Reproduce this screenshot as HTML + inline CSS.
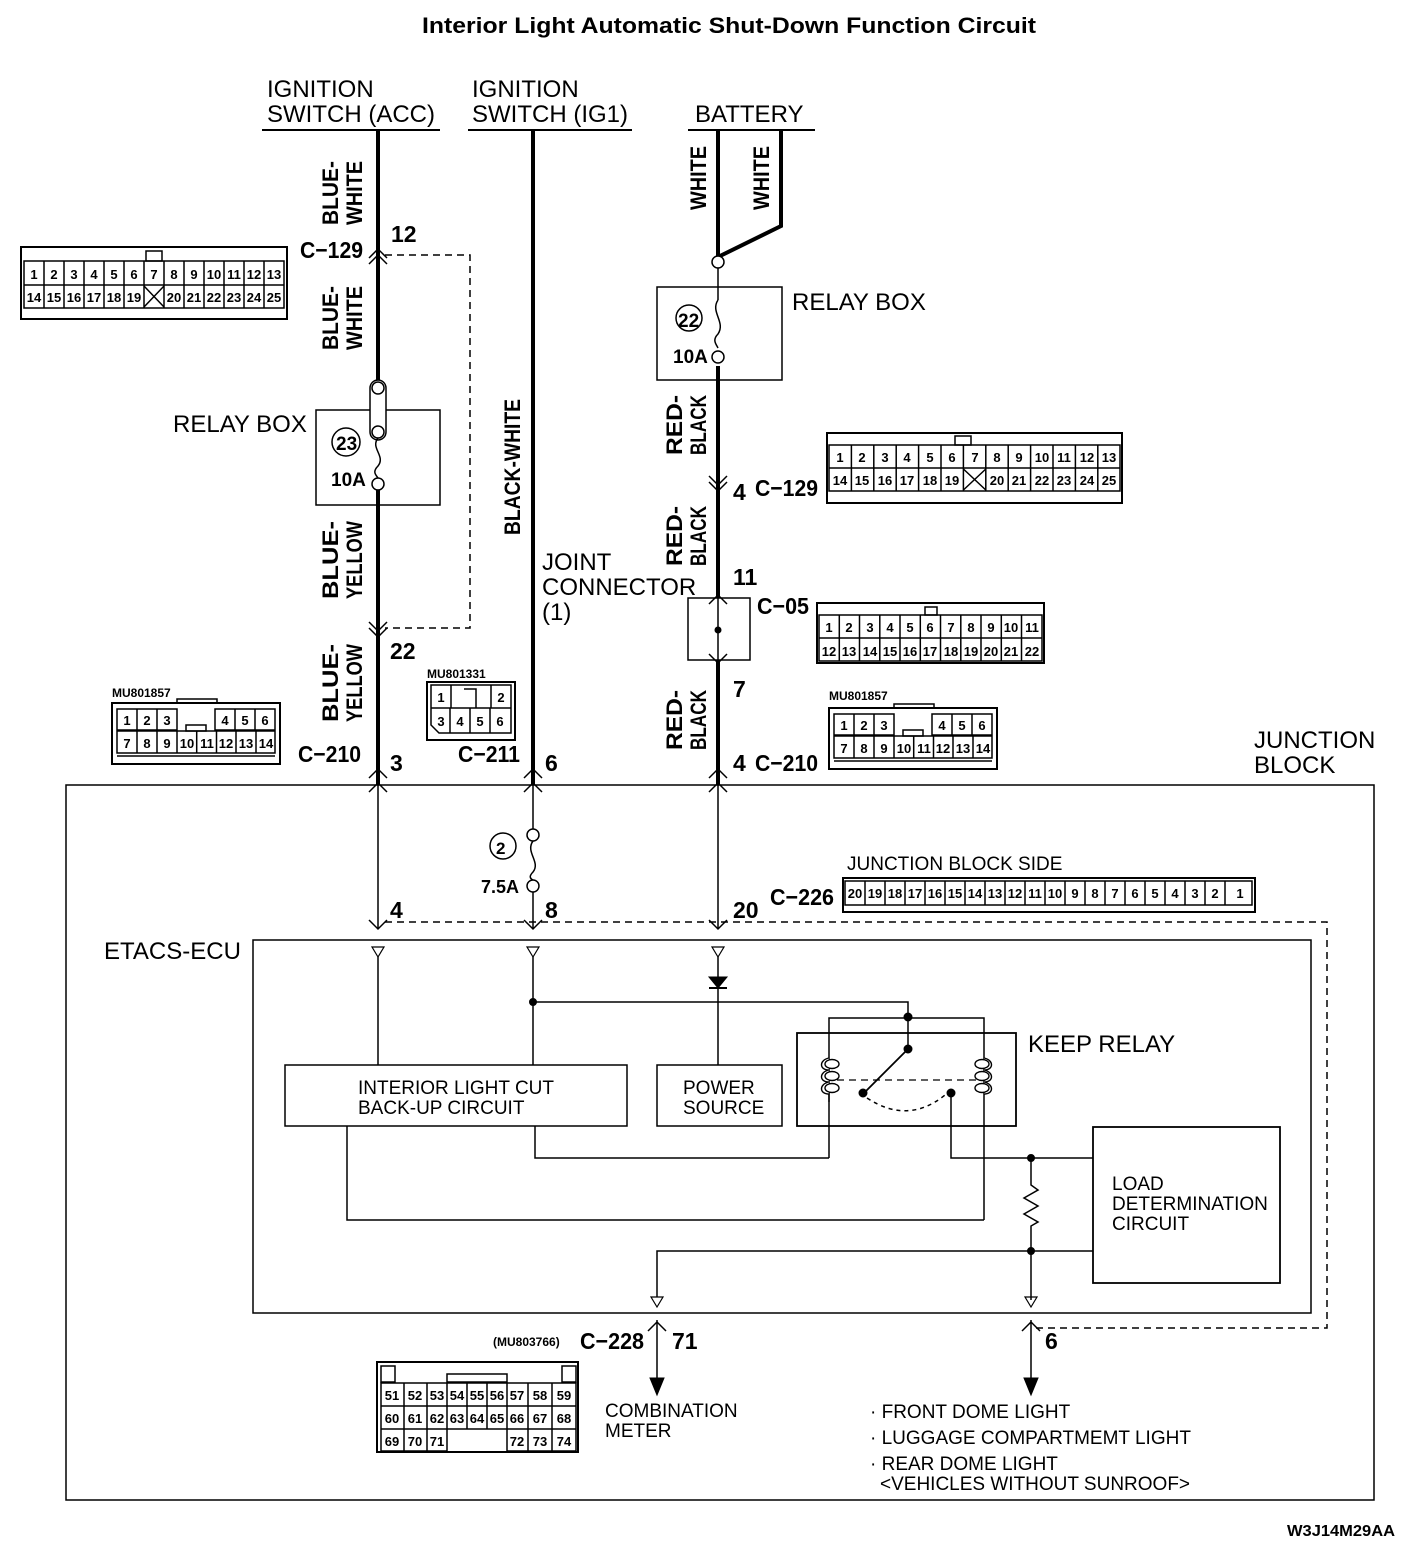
<!DOCTYPE html>
<html><head><meta charset="utf-8"><style>
html,body{margin:0;padding:0;background:#fff}
svg{display:block}
text{font-family:"Liberation Sans",sans-serif;fill:#000}
.t{font-size:24px}
.b{font-size:23px;font-weight:bold}
.n{font-size:13px;font-weight:bold;text-anchor:middle}
.s{font-size:19px}
</style></head><body>
<svg width="1408" height="1552" viewBox="0 0 1408 1552" xmlns="http://www.w3.org/2000/svg" stroke-linecap="butt">
<text x="422" y="33" style="font-size:22px;font-weight:bold" textLength="614" lengthAdjust="spacingAndGlyphs">Interior Light Automatic Shut-Down Function Circuit</text>

<!-- top labels -->
<text class="t" x="267" y="97">IGNITION</text><text class="t" x="267" y="122">SWITCH (ACC)</text>
<line x1="262" y1="130" x2="440" y2="130" stroke="#000" stroke-width="2"/>
<text class="t" x="472" y="97">IGNITION</text><text class="t" x="472" y="122">SWITCH (IG1)</text>
<line x1="468" y1="130" x2="632" y2="130" stroke="#000" stroke-width="2"/>
<text class="t" x="695" y="122">BATTERY</text>
<line x1="688" y1="130" x2="815" y2="130" stroke="#000" stroke-width="2"/>

<g stroke="#000" fill="none">
<line x1="378" y1="130" x2="378" y2="380" stroke-width="4"/>
<line x1="378" y1="490" x2="378" y2="785" stroke-width="4"/>
<line x1="533" y1="130" x2="533" y2="785" stroke-width="4"/>
<line x1="718" y1="130" x2="718" y2="256" stroke-width="4"/>
<polyline points="781,130 781,226 718,257" stroke-width="4"/>
<line x1="718" y1="366" x2="718" y2="598" stroke-width="4"/>
<line x1="718" y1="660" x2="718" y2="785" stroke-width="4"/>
<polyline points="369,258 378,249 387,258" stroke-width="1.5"/>
<polyline points="369,264 378,255 387,264" stroke-width="1.5"/>
<polyline points="369,622 378,631 387,622" stroke-width="1.5"/>
<polyline points="369,628 378,637 387,628" stroke-width="1.5"/>
<polyline points="369,778 378,769 387,778" stroke-width="1.5"/>
<polyline points="369,792 378,783 387,792" stroke-width="1.5"/>
<polyline points="524,778 533,769 542,778" stroke-width="1.5"/>
<polyline points="524,792 533,783 542,792" stroke-width="1.5"/>
<polyline points="709,778 718,769 727,778" stroke-width="1.5"/>
<polyline points="709,792 718,783 727,792" stroke-width="1.5"/>
<polyline points="709,476 718,485 727,476" stroke-width="1.5"/>
<polyline points="709,482 718,491 727,482" stroke-width="1.5"/>
<polyline points="709,604 718,595 727,604" stroke-width="1.5"/>
<polyline points="709,654 718,663 727,654" stroke-width="1.5"/>
<polyline points="369,920 378,929 387,920" stroke-width="1.5"/>
<polyline points="524,920 533,929 542,920" stroke-width="1.5"/>
<polyline points="709,920 718,929 727,920" stroke-width="1.5"/>
<polyline points="385,255 470,255 470,628 385,628" stroke-width="1.5" stroke-dasharray="7,5"/>
<rect x="316" y="410" width="124" height="95" stroke-width="1.5"/>
<rect x="370" y="380" width="16" height="60" rx="8" stroke-width="1.5" fill="#fff"/>
<circle cx="378" cy="388" r="6" fill="#fff" stroke-width="1.5"/>
<circle cx="378" cy="432" r="6" fill="#fff" stroke-width="1.5"/>
<path d="M378,438 C370,448 386,456 378,466 C372,472 376,475 378,478" stroke-width="1.5"/>
<circle cx="378" cy="484" r="6" fill="#fff" stroke-width="1.5"/>
<circle cx="346" cy="442" r="14" stroke-width="1.5"/>
<rect x="657" y="287" width="125" height="93" stroke-width="1.5"/>
<circle cx="718" cy="262" r="6" fill="#fff" stroke-width="1.5"/>
<line x1="718" y1="268" x2="718" y2="300" stroke-width="1.5"/>
<path d="M718,300 C710,312 726,322 718,334 C712,340 716,344 718,348" stroke-width="1.5"/>
<circle cx="718" cy="357" r="6" fill="#fff" stroke-width="1.5"/>
<circle cx="689" cy="318" r="13" stroke-width="1.5"/>
<rect x="688" y="598" width="62" height="62" stroke-width="1.5"/>
<line x1="718" y1="598" x2="718" y2="660" stroke-width="1.5"/>
<circle cx="718" cy="630" r="3" fill="#000"/>

<rect x="66" y="785" width="1308" height="715" stroke-width="1.5"/>
<line x1="378" y1="785" x2="378" y2="928" stroke-width="1.5"/>
<line x1="533" y1="785" x2="533" y2="829" stroke-width="1.5"/>
<circle cx="533" cy="835" r="6" fill="#fff" stroke-width="1.5"/>
<path d="M533,841 C525,852 541,862 533,872 C528,877 531,879 533,880" stroke-width="1.5"/>
<circle cx="533" cy="886" r="6" fill="#fff" stroke-width="1.5"/>
<line x1="533" y1="892" x2="533" y2="928" stroke-width="1.5"/>
<circle cx="503" cy="846" r="13" stroke-width="1.5"/>
<line x1="718" y1="785" x2="718" y2="928" stroke-width="1.5"/>
<polyline points="385,922 1327,922 1327,1328 1035,1328" stroke-width="1.5" stroke-dasharray="7,5"/>

<rect x="253" y="940" width="1058" height="373" stroke-width="1.5"/>
<polygon points="372,947 384,947 378,957" stroke-width="1.2"/>
<polygon points="527,947 539,947 533,957" stroke-width="1.2"/>
<polygon points="712,947 724,947 718,957" stroke-width="1.2"/>
<line x1="378" y1="957" x2="378" y2="1065" stroke-width="1.5"/>
<line x1="533" y1="957" x2="533" y2="1065" stroke-width="1.5"/>
<line x1="718" y1="957" x2="718" y2="1065" stroke-width="1.5"/>
<polygon points="709,977 727,977 718,988" fill="#000" stroke-width="1"/>
<line x1="709" y1="988" x2="727" y2="988" stroke-width="2"/>
<polyline points="533,1002 908,1002 908,1049" stroke-width="1.5"/>
<circle cx="533" cy="1002" r="3.5" fill="#000"/>
<circle cx="908" cy="1017" r="4" fill="#000"/>
<circle cx="908" cy="1049" r="4" fill="#000"/>
<line x1="908" y1="1049" x2="865" y2="1092" stroke-width="1.8"/>
<circle cx="863" cy="1093" r="4" fill="#000"/>
<path d="M867,1098 Q908,1125 945,1095" stroke-width="1.5" stroke-dasharray="4,4"/>
<circle cx="951" cy="1093" r="4" fill="#000"/>
<line x1="825" y1="1080" x2="990" y2="1080" stroke-width="1.2" stroke-dasharray="7,5"/>
<polyline points="829,1158 829,1018 984,1018 984,1220" stroke-width="1.5"/>
<g stroke-width="1.4">
<path d="M829,1058 c-10,2 -10,12 0,12 c-10,2 -10,12 0,12 c-10,2 -10,12 0,12 c0,4 0,6 0,8" fill="#fff"/>
<ellipse cx="832" cy="1064" rx="7" ry="4.5" fill="#fff"/><ellipse cx="832" cy="1076" rx="7" ry="4.5" fill="#fff"/><ellipse cx="832" cy="1088" rx="7" ry="4.5" fill="#fff"/>
<path d="M984,1058 c10,2 10,12 0,12 c10,2 10,12 0,12 c10,2 10,12 0,12" fill="#fff"/>
<ellipse cx="982" cy="1064" rx="7" ry="4.5" fill="#fff"/><ellipse cx="982" cy="1076" rx="7" ry="4.5" fill="#fff"/><ellipse cx="982" cy="1088" rx="7" ry="4.5" fill="#fff"/>
</g>
<rect x="797" y="1033" width="219" height="93" stroke-width="1.8"/>
<rect x="285" y="1065" width="342" height="61" stroke-width="1.5"/>
<rect x="657" y="1065" width="125" height="61" stroke-width="1.5"/>
<polyline points="535,1126 535,1158 829,1158" stroke-width="1.5"/>
<polyline points="347,1126 347,1220 984,1220" stroke-width="1.5"/>
<polyline points="951,1093 951,1158 1093,1158" stroke-width="1.5"/>
<circle cx="1031" cy="1158" r="3.5" fill="#000"/>
<polyline points="1031,1158 1031,1185 1038,1190 1024,1198 1038,1206 1024,1214 1038,1222 1031,1226 1031,1300" stroke-width="1.5"/>
<circle cx="1031" cy="1251" r="3.5" fill="#000"/>
<polyline points="1093,1251 657,1251 657,1297" stroke-width="1.5"/>
<rect x="1093" y="1127" width="187" height="156" stroke-width="1.8"/>
<polygon points="651,1297 663,1297 657,1307" stroke-width="1.2"/>
<polygon points="1025,1297 1037,1297 1031,1307" stroke-width="1.2"/>
<line x1="657" y1="1320" x2="657" y2="1380" stroke-width="1.5"/>
<polyline points="648,1331 657,1322 666,1331" stroke-width="1.5"/>
<polygon points="650,1378 664,1378 657,1395" fill="#000"/>
<line x1="1031" y1="1320" x2="1031" y2="1380" stroke-width="1.5"/>
<polyline points="1022,1331 1031,1322 1040,1331" stroke-width="1.5"/>
<polygon points="1024,1378 1038,1378 1031,1395" fill="#000"/>
</g>

<g style="font-size:22px;font-weight:bold" text-anchor="middle">
<text transform="translate(338,193) rotate(-90)" textLength="64" lengthAdjust="spacingAndGlyphs">BLUE-</text>
<text transform="translate(362,193) rotate(-90)" textLength="64" lengthAdjust="spacingAndGlyphs">WHITE</text>
<text transform="translate(338,318) rotate(-90)" textLength="64" lengthAdjust="spacingAndGlyphs">BLUE-</text>
<text transform="translate(362,318) rotate(-90)" textLength="64" lengthAdjust="spacingAndGlyphs">WHITE</text>
<text transform="translate(338,560) rotate(-90)" textLength="78" lengthAdjust="spacingAndGlyphs">BLUE-</text>
<text transform="translate(362,560) rotate(-90)" textLength="78" lengthAdjust="spacingAndGlyphs">YELLOW</text>
<text transform="translate(338,683) rotate(-90)" textLength="78" lengthAdjust="spacingAndGlyphs">BLUE-</text>
<text transform="translate(362,683) rotate(-90)" textLength="78" lengthAdjust="spacingAndGlyphs">YELLOW</text>
<text transform="translate(520,467) rotate(-90)" textLength="136" lengthAdjust="spacingAndGlyphs">BLACK-WHITE</text>
<text transform="translate(706,178) rotate(-90)" textLength="64" lengthAdjust="spacingAndGlyphs">WHITE</text>
<text transform="translate(769,178) rotate(-90)" textLength="64" lengthAdjust="spacingAndGlyphs">WHITE</text>
<text transform="translate(682,425) rotate(-90)" textLength="60" lengthAdjust="spacingAndGlyphs">RED-</text>
<text transform="translate(706,425) rotate(-90)" textLength="60" lengthAdjust="spacingAndGlyphs">BLACK</text>
<text transform="translate(682,536) rotate(-90)" textLength="60" lengthAdjust="spacingAndGlyphs">RED-</text>
<text transform="translate(706,536) rotate(-90)" textLength="60" lengthAdjust="spacingAndGlyphs">BLACK</text>
<text transform="translate(682,720) rotate(-90)" textLength="60" lengthAdjust="spacingAndGlyphs">RED-</text>
<text transform="translate(706,720) rotate(-90)" textLength="60" lengthAdjust="spacingAndGlyphs">BLACK</text>
</g>

<g class="b">
<text x="300" y="258" textLength="63" lengthAdjust="spacingAndGlyphs">C−129</text>
<text x="391" y="242">12</text>
<text x="390" y="659">22</text>
<text x="298" y="762" textLength="63" lengthAdjust="spacingAndGlyphs">C−210</text>
<text x="390" y="771">3</text>
<text x="458" y="762" textLength="62" lengthAdjust="spacingAndGlyphs">C−211</text>
<text x="545" y="771">6</text>
<text x="733" y="500">4</text>
<text x="755" y="496" textLength="63" lengthAdjust="spacingAndGlyphs">C−129</text>
<text x="733" y="585">11</text>
<text x="757" y="614" textLength="52" lengthAdjust="spacingAndGlyphs">C−05</text>
<text x="733" y="697">7</text>
<text x="733" y="771">4</text>
<text x="755" y="771" textLength="63" lengthAdjust="spacingAndGlyphs">C−210</text>
<text x="390" y="918">4</text>
<text x="545" y="918">8</text>
<text x="733" y="918">20</text>
<text x="770" y="905" textLength="64" lengthAdjust="spacingAndGlyphs">C−226</text>
<text x="580" y="1349" textLength="64" lengthAdjust="spacingAndGlyphs">C−228</text>
<text x="672" y="1349">71</text>
<text x="1045" y="1349">6</text>
<text x="336" y="450" style="font-size:19px">23</text>
<text x="331" y="486" style="font-size:19px">10A</text>
<text x="678" y="327" style="font-size:19px">22</text>
<text x="673" y="363" style="font-size:19px">10A</text>
<text x="496" y="854" style="font-size:17px">2</text>
<text x="481" y="893" style="font-size:18px">7.5A</text>
</g>
<text class="t" x="173" y="432">RELAY BOX</text>
<text class="t" x="792" y="310">RELAY BOX</text>
<text class="t" x="542" y="570">JOINT</text>
<text class="t" x="542" y="595">CONNECTOR</text>
<text class="t" x="542" y="620">(1)</text>
<text class="t" x="1254" y="748">JUNCTION</text>
<text class="t" x="1254" y="773">BLOCK</text>
<text class="s" x="847" y="870">JUNCTION BLOCK SIDE</text>
<text class="t" x="104" y="959">ETACS-ECU</text>
<text class="t" x="1028" y="1052">KEEP RELAY</text>
<text class="s" x="358" y="1094">INTERIOR LIGHT CUT</text>
<text class="s" x="358" y="1114">BACK-UP CIRCUIT</text>
<text class="s" x="683" y="1094">POWER</text>
<text class="s" x="683" y="1114">SOURCE</text>
<text class="s" x="1112" y="1190">LOAD</text>
<text class="s" x="1112" y="1210">DETERMINATION</text>
<text class="s" x="1112" y="1230">CIRCUIT</text>
<text class="s" x="605" y="1417">COMBINATION</text>
<text class="s" x="605" y="1437">METER</text>
<text class="s" x="870" y="1418">· FRONT DOME LIGHT</text>
<text class="s" x="870" y="1444">· LUGGAGE COMPARTMEMT LIGHT</text>
<text class="s" x="870" y="1470">· REAR DOME LIGHT</text>
<text class="s" x="880" y="1490">&lt;VEHICLES WITHOUT SUNROOF&gt;</text>
<text x="1287" y="1536" style="font-size:16px;font-weight:bold" textLength="108" lengthAdjust="spacingAndGlyphs">W3J14M29AA</text>
<text x="112" y="697" style="font-size:12px;font-weight:bold">MU801857</text>
<text x="829" y="700" style="font-size:12px;font-weight:bold">MU801857</text>
<text x="427" y="678" style="font-size:12px;font-weight:bold">MU801331</text>
<text x="493" y="1346" style="font-size:12px;font-weight:bold">(MU803766)</text>

<g stroke="#000" fill="none" stroke-width="1.5">
<rect x="21" y="247" width="266" height="72" stroke-width="2"/>
<rect x="146" y="251" width="16" height="10"/>
<rect x="24" y="261" width="260" height="47"/>
<line x1="24" y1="285" x2="284" y2="285"/>
<path d="M44,261v47M64,261v47M84,261v47M104,261v47M124,261v47M144,261v47M164,261v47M184,261v47M204,261v47M224,261v47M244,261v47M264,261v47"/>
<path d="M144,286 L164,307 M164,286 L144,307"/>
<rect x="827" y="433" width="295" height="70" stroke-width="2"/>
<rect x="955" y="436" width="16" height="9"/>
<rect x="829" y="445" width="291" height="46"/>
<line x1="829" y1="468" x2="1120" y2="468"/>
<path d="M851.4,445v46M873.8,445v46M896.2,445v46M918.6,445v46M941,445v46M963.4,445v46M985.8,445v46M1008.2,445v46M1030.6,445v46M1053,445v46M1075.4,445v46M1097.8,445v46"/>
<path d="M963.4,469 L985.8,490 M985.8,469 L963.4,490"/>
<rect x="817" y="603" width="227" height="60" stroke-width="2"/>
<rect x="925" y="607" width="12" height="8"/>
<rect x="819" y="615" width="223" height="46"/>
<line x1="819" y1="638" x2="1042" y2="638"/>
<path d="M839.3,615v46M859.5,615v46M879.8,615v46M900,615v46M920.3,615v46M940.5,615v46M960.8,615v46M981,615v46M1001.3,615v46M1021.5,615v46"/>
<rect x="112" y="703" width="168" height="61" stroke-width="2"/>
<rect x="177" y="699" width="40" height="4"/>
<path d="M117,709h60v21h-60zM215,709h60v21h-60zM117,731h158v22h-158z"/>
<path d="M137,709v44M157,709v44M177,731v22M196.7,731v22M216.5,731v22M236,731v22M256,731v22M235,709v21M255,709v21"/>
<rect x="186" y="725" width="20" height="6"/>
<path d="M117,756h158"/>
<g transform="translate(717,5)">
<rect x="112" y="703" width="168" height="61" stroke-width="2"/>
<rect x="177" y="699" width="40" height="4"/>
<path d="M117,709h60v21h-60zM215,709h60v21h-60zM117,731h158v22h-158z"/>
<path d="M137,709v44M157,709v44M177,731v22M196.7,731v22M216.5,731v22M236,731v22M256,731v22M235,709v21M255,709v21"/>
<rect x="186" y="725" width="20" height="6"/>
<path d="M117,756h158"/>
</g>
<rect x="427" y="682" width="88" height="58" stroke-width="2"/>
<path d="M431,685h80v48h-72l-8,-8z"/>
<path d="M431,708h80M451,685v23M491,685v23M450,708v25M470,708v25M490,708v25M464,689h12v19"/>
<rect x="843" y="878" width="412" height="34" stroke-width="2"/>
<rect x="845" y="881" width="407" height="24"/>
<path d="M865,881v24M885,881v24M905,881v24M925,881v24M945,881v24M965,881v24M985,881v24M1005,881v24M1025,881v24M1045,881v24M1065,881v24M1085,881v24M1105,881v24M1125,881v24M1145,881v24M1165,881v24M1185,881v24M1205,881v24M1225,881v24"/>
<rect x="377" y="1362" width="201" height="90" stroke-width="2"/>
<rect x="381" y="1366" width="14" height="16"/>
<rect x="562" y="1366" width="14" height="16"/>
<rect x="447" y="1374" width="60" height="8"/>
<path d="M381,1383h195v46h-195zM381,1406h195M381,1429v22h66v-22M507,1429v22h69v-22"/>
<path d="M404,1383v68M427,1383v68M447,1383v46M467,1383v46M487,1383v46M507,1383v46M528,1383v68M552,1383v68"/>
</g>
<g class="n">
<text x="34" y="279">1</text><text x="54" y="279">2</text><text x="74" y="279">3</text><text x="94" y="279">4</text><text x="114" y="279">5</text><text x="134" y="279">6</text><text x="154" y="279">7</text><text x="174" y="279">8</text><text x="194" y="279">9</text><text x="214" y="279">10</text><text x="234" y="279">11</text><text x="254" y="279">12</text><text x="274" y="279">13</text>
<text x="34" y="302">14</text><text x="54" y="302">15</text><text x="74" y="302">16</text><text x="94" y="302">17</text><text x="114" y="302">18</text><text x="134" y="302">19</text><text x="174" y="302">20</text><text x="194" y="302">21</text><text x="214" y="302">22</text><text x="234" y="302">23</text><text x="254" y="302">24</text><text x="274" y="302">25</text>
</g>
<g class="n">
<text x="840" y="462">1</text><text x="862" y="462">2</text><text x="885" y="462">3</text><text x="907" y="462">4</text><text x="930" y="462">5</text><text x="952" y="462">6</text><text x="975" y="462">7</text><text x="997" y="462">8</text><text x="1019" y="462">9</text><text x="1042" y="462">10</text><text x="1064" y="462">11</text><text x="1087" y="462">12</text><text x="1109" y="462">13</text>
<text x="840" y="485">14</text><text x="862" y="485">15</text><text x="885" y="485">16</text><text x="907" y="485">17</text><text x="930" y="485">18</text><text x="952" y="485">19</text><text x="997" y="485">20</text><text x="1019" y="485">21</text><text x="1042" y="485">22</text><text x="1064" y="485">23</text><text x="1087" y="485">24</text><text x="1109" y="485">25</text>
</g>
<g class="n">
<text x="829" y="632">1</text><text x="849" y="632">2</text><text x="870" y="632">3</text><text x="890" y="632">4</text><text x="910" y="632">5</text><text x="930" y="632">6</text><text x="951" y="632">7</text><text x="971" y="632">8</text><text x="991" y="632">9</text><text x="1011" y="632">10</text><text x="1032" y="632">11</text>
<text x="829" y="656">12</text><text x="849" y="656">13</text><text x="870" y="656">14</text><text x="890" y="656">15</text><text x="910" y="656">16</text><text x="930" y="656">17</text><text x="951" y="656">18</text><text x="971" y="656">19</text><text x="991" y="656">20</text><text x="1011" y="656">21</text><text x="1032" y="656">22</text>
</g>
<g class="n">
<text x="127" y="725">1</text><text x="147" y="725">2</text><text x="167" y="725">3</text><text x="225" y="725">4</text><text x="245" y="725">5</text><text x="265" y="725">6</text>
<text x="127" y="748">7</text><text x="147" y="748">8</text><text x="167" y="748">9</text><text x="187" y="748">10</text><text x="207" y="748">11</text><text x="226" y="748">12</text><text x="246" y="748">13</text><text x="266" y="748">14</text>
</g>
<g class="n" transform="translate(717,5)">
<text x="127" y="725">1</text><text x="147" y="725">2</text><text x="167" y="725">3</text><text x="225" y="725">4</text><text x="245" y="725">5</text><text x="265" y="725">6</text>
<text x="127" y="748">7</text><text x="147" y="748">8</text><text x="167" y="748">9</text><text x="187" y="748">10</text><text x="207" y="748">11</text><text x="226" y="748">12</text><text x="246" y="748">13</text><text x="266" y="748">14</text>
</g>
<g class="n">
<text x="441" y="702">1</text><text x="501" y="702">2</text><text x="441" y="726">3</text><text x="460" y="726">4</text><text x="480" y="726">5</text><text x="500" y="726">6</text>
</g>
<g class="n">
<text x="855" y="898">20</text><text x="875" y="898">19</text><text x="895" y="898">18</text><text x="915" y="898">17</text><text x="935" y="898">16</text><text x="955" y="898">15</text><text x="975" y="898">14</text><text x="995" y="898">13</text><text x="1015" y="898">12</text><text x="1035" y="898">11</text><text x="1055" y="898">10</text><text x="1075" y="898">9</text><text x="1095" y="898">8</text><text x="1115" y="898">7</text><text x="1135" y="898">6</text><text x="1155" y="898">5</text><text x="1175" y="898">4</text><text x="1195" y="898">3</text><text x="1215" y="898">2</text><text x="1240" y="898">1</text>
</g>
<g class="n">
<text x="392" y="1400">51</text><text x="415" y="1400">52</text><text x="437" y="1400">53</text><text x="457" y="1400">54</text><text x="477" y="1400">55</text><text x="497" y="1400">56</text><text x="517" y="1400">57</text><text x="540" y="1400">58</text><text x="564" y="1400">59</text>
<text x="392" y="1423">60</text><text x="415" y="1423">61</text><text x="437" y="1423">62</text><text x="457" y="1423">63</text><text x="477" y="1423">64</text><text x="497" y="1423">65</text><text x="517" y="1423">66</text><text x="540" y="1423">67</text><text x="564" y="1423">68</text>
<text x="392" y="1446">69</text><text x="415" y="1446">70</text><text x="437" y="1446">71</text><text x="517" y="1446">72</text><text x="540" y="1446">73</text><text x="564" y="1446">74</text>
</g>
</svg>
</body></html>
